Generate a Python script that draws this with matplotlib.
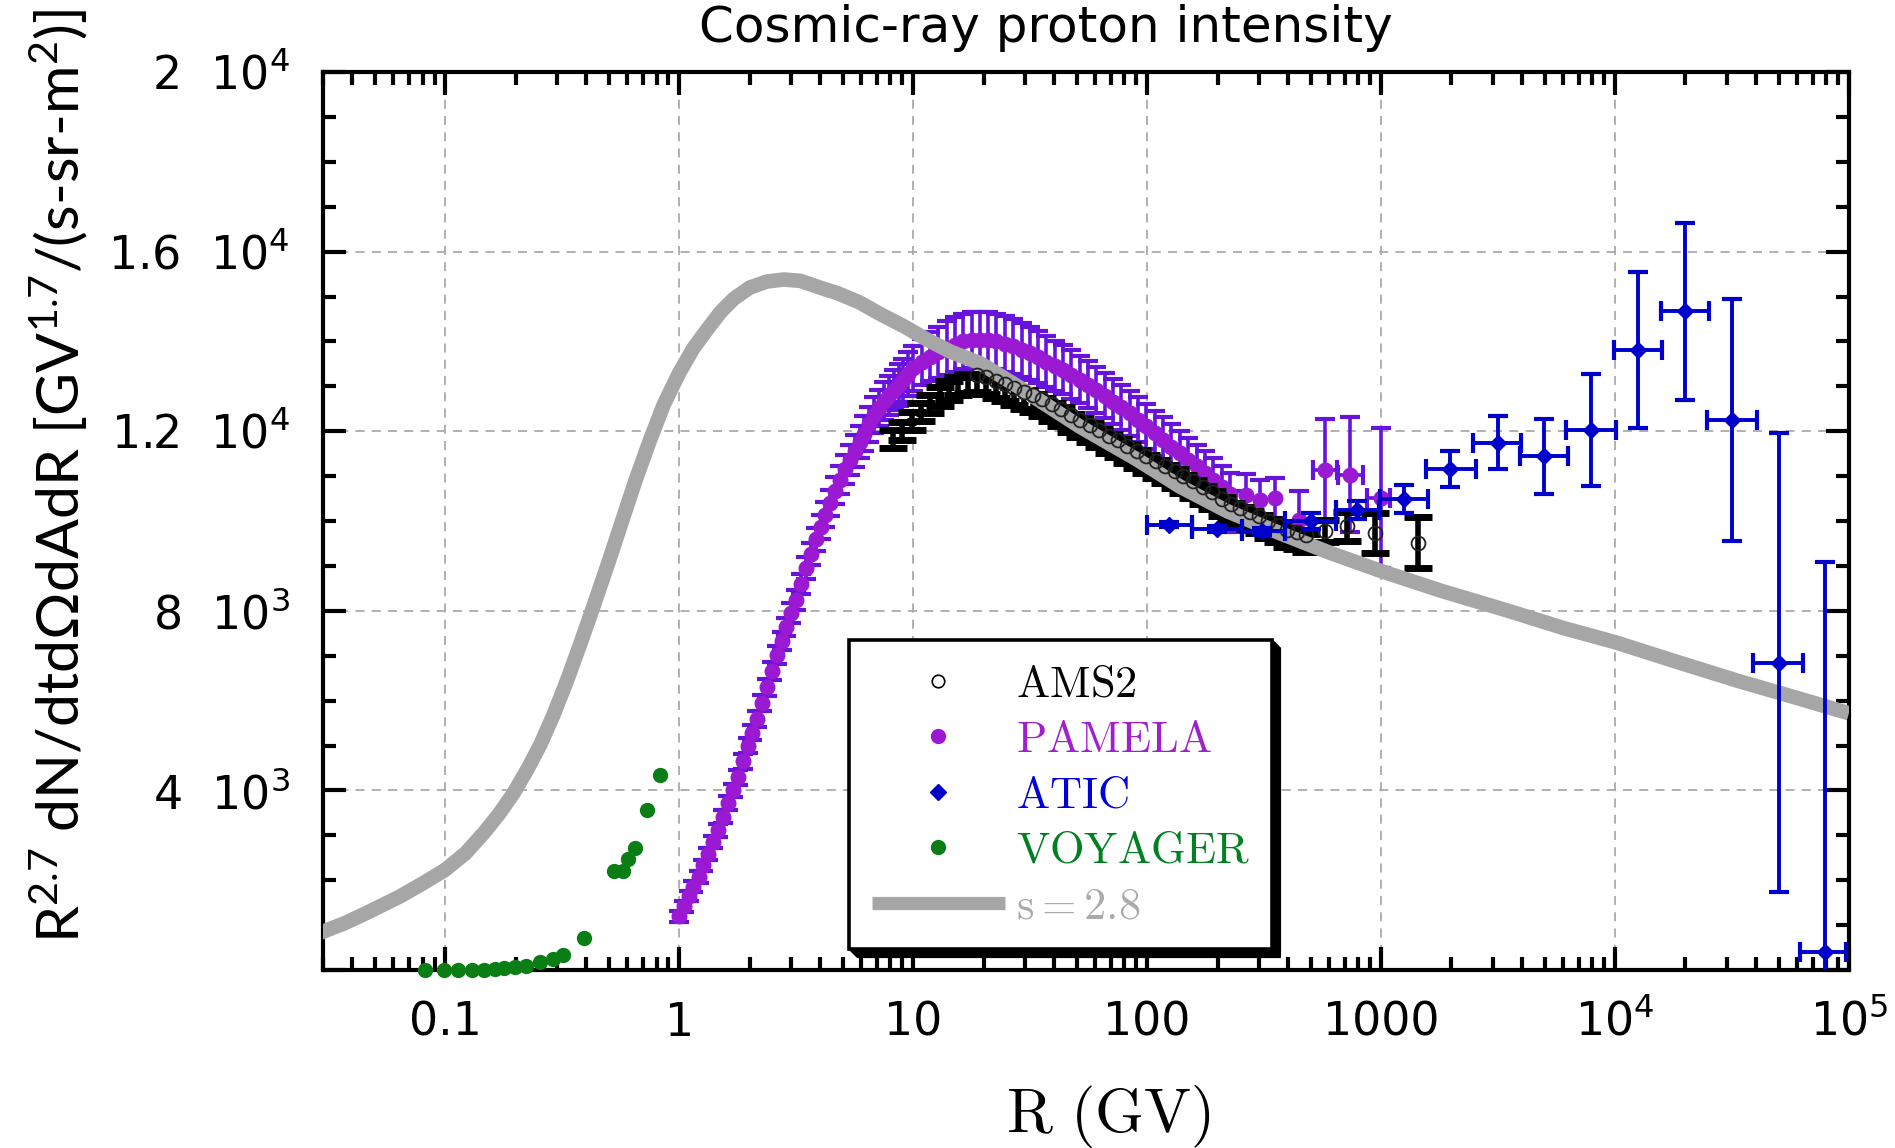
import numpy as np
import matplotlib
matplotlib.use('Agg')
import matplotlib.pyplot as plt
from matplotlib.lines import Line2D
from matplotlib.patches import Polygon
from matplotlib.ticker import LogLocator, MultipleLocator, NullFormatter

# model curve, s = 2.8
CURVE_R = [0.029, 0.037, 0.046, 0.064, 0.082, 0.10, 0.122, 0.146, 0.17, 0.196, 0.225, 0.255,
           0.29, 0.33, 0.38, 0.43, 0.50, 0.57, 0.65, 0.75, 0.86, 1.0, 1.15, 1.31, 1.5, 1.71, 2.0,
           2.37, 2.8, 3.3, 4.0, 4.75, 5.9, 7.3, 9.2, 11.5, 14.5, 19.3, 28, 51.5, 90, 138, 220,
           369, 600, 1000, 1800, 3500, 6000, 10000, 18000, 33400, 60000, 100000]
CURVE_VAL = [824, 1040, 1269, 1639, 1960, 2234, 2600, 3051, 3480, 3942, 4480, 5020,
             5680, 6420, 7300, 8100, 9100, 10000, 10900, 11800, 12600, 13300, 13850, 14250, 14650, 14950, 15200,
             15335, 15380, 15350, 15200, 15076, 14870, 14600, 14330, 14037, 13770, 13518, 13000, 12106, 11380, 10770, 10220,
             9732, 9300, 8887, 8450, 8001, 7620, 7303, 6880, 6444, 6060, 5719]

# AMS2
AMS_R = [8.18, 8.97, 9.84, 10.8, 11.8, 13.0, 14.2, 15.6, 17.1, 18.7, 20.5, 22.5, 24.7, 27.1,
         29.7, 32.6, 35.7, 39.2, 43.0, 47.2, 51.8, 56.8, 62.3, 68.4, 75.0, 82.2, 90.2, 99.0,
         109, 119, 131, 143, 157, 173, 189, 208, 228, 250, 274, 301, 330, 362, 397, 436, 478,
         576, 713, 944, 1445]
AMS_VAL = [12000, 12180, 12400, 12600, 12780, 12950, 13080, 13180, 13240, 13255, 13210, 13130, 13045, 12960,
           12880, 12800, 12720, 12610, 12500, 12360, 12260, 12150, 12020, 11900, 11800, 11680, 11560, 11440,
           11330, 11230, 11120, 11000, 10890, 10760, 10640, 10500, 10380, 10290, 10200, 10110, 10010, 9920,
           9810, 9750, 9690, 9770, 9880, 9730, 9520]
AMS_ERR_LO = [380] * 45 + [245, 320, 445, 560]
AMS_ERR_HI = [30] * 45 + [245, 320, 445, 560]

# PAMELA
PAM_R = [1.00, 1.05, 1.10, 1.15, 1.21, 1.27, 1.33, 1.40, 1.47, 1.54, 1.62, 1.70, 1.78, 1.87, 1.96,
         2.05, 2.15, 2.26, 2.37, 2.49, 2.61, 2.74, 2.87, 3.01, 3.16, 3.32, 3.48, 3.65, 3.83, 4.02,
         4.22, 4.43, 4.64, 4.87, 5.11, 5.36, 5.62, 5.90, 6.19, 6.49, 6.81, 7.15, 7.50, 7.87, 8.25,
         8.66, 9.09, 9.54, 10.0,
         10.9, 11.8, 12.8, 13.9, 15.1, 16.4, 17.8, 19.3, 20.9, 22.7, 24.7, 26.8, 29.1, 31.5, 34.2,
         37.1, 40.3, 43.7, 47.4, 51.5, 55.9, 60.7, 65.9, 71.5, 77.6, 84.2, 91.4, 99.2, 108, 117,
         127, 138, 150, 163, 177, 192, 208, 226,
         240, 266, 303, 352, 445, 576, 735, 996]
PAM_VAL = [1200, 1420, 1650, 1860, 2080, 2330, 2580, 2850, 3110, 3410, 3720, 4000, 4290, 4650, 5000,
           5290, 5590, 5950, 6300, 6660, 7020, 7330, 7640, 7950, 8250, 8600, 8950, 9270, 9590, 9870,
           10140, 10410, 10680, 10920, 11150, 11360, 11560, 11760, 11950, 12160, 12360, 12520, 12680, 12800, 12920,
           13030, 13140, 13270, 13400,
           13540, 13660, 13760, 13850, 13930, 14000, 14030, 14040, 14030, 14000, 13950, 13890, 13820, 13740, 13650,
           13550, 13460, 13370, 13260, 13150, 13040, 12920, 12790, 12660, 12530, 12400, 12260, 12110, 11960, 11810,
           11660, 11510, 11370, 11220, 11070, 10920, 10760, 10600,
           10210, 10590, 10470, 10510, 10030, 11130, 11030, 10510]
PAM_ERR = [120, 120, 120, 125, 130, 130, 135, 140, 140, 145, 150, 155, 160, 165, 170,
           175, 180, 185, 190, 195, 200, 205, 210, 215, 220, 230, 240, 250, 260, 270,
           280, 290, 300, 310, 320, 335, 350, 365, 380, 390, 400, 410, 420, 435, 450,
           465, 480, 490, 500,
           520, 550, 570, 600, 610, 620, 620, 620, 620, 620, 620, 610, 600, 590, 580,
           570, 560, 550, 540, 530, 520, 510, 500, 500, 500, 500, 500, 500, 500, 500,
           500, 500, 490, 480, 480, 480, 470, 470,
           450, 450, 450, 450, 650, 1150, 1280, 1560]
PAM_TAIL_LO = [512, 655, 871]
PAM_TAIL_HI = [649, 838, 1096]

# ATIC
ATIC_R = [124, 199, 311, 501, 790, 1250, 1980, 3150, 4980, 7890, 12530, 19860, 31600, 50100, 78900]
ATIC_VAL = [9917, 9820, 9770, 10000, 10250, 10490, 11160, 11750, 11440, 12030, 13810, 14670, 12250, 6850, 400]
ATIC_ERR = [60, 60, 80, 180, 200, 315, 400, 590, 840, 1250, 1740, 1970, 2700, 5110, 8690]
ATIC_RLO = [100, 156, 255, 390, 640, 985, 1560, 2470, 3940, 6180, 9890, 15740, 24660, 39000, 61800]
ATIC_RHI = [156, 255, 390, 640, 980, 1580, 2540, 3980, 6300, 10100, 15960, 25230, 40640, 63500, 97200]

# VOYAGER
VOY_R = [0.0822, 0.0984, 0.113, 0.130, 0.146, 0.163, 0.179, 0.199, 0.222, 0.255, 0.288, 0.318,
         0.393, 0.524, 0.574, 0.607, 0.648, 0.727, 0.824]
VOY_VAL = [5, 5, 5, 5, 8, 22, 45, 58, 81, 170, 246, 343, 708, 2209, 2203, 2472, 2712, 3554, 4338]

X_TICKS = [0.1, 1, 10, 100, 1000, 1e4, 1e5]
X_LABELS = ['0.1', '1', '10', '100', '1000', r'10$^{4}$', r'10$^{5}$']
Y_TICKS = [0, 4000, 8000, 12000, 16000, 20000]
Y_LABELS = ['', r'4  10$^{3}$', r'8  10$^{3}$', r'1.2  10$^{4}$', r'1.6  10$^{4}$', r'2  10$^{4}$']

C_CURVE = '#a6a6a6'
C_PAM = '#9b19d3'
C_PAM_ERR = '#6614dc'
C_ATIC = '#0000cc'
C_VOY = '#0a7d14'

plt.rcParams['mathtext.fontset'] = 'custom'
plt.rcParams['mathtext.rm'] = 'Lato'
plt.rcParams['mathtext.it'] = 'Lato:italic'
plt.rcParams['mathtext.bf'] = 'Lato:bold'

fig = plt.figure(figsize=(18.95, 11.48), dpi=100, facecolor='white')
ax = fig.add_axes([0.1704, 0.155, 0.8053, 0.7822])

ams_R = np.array(AMS_R)
ams_V = np.array(AMS_VAL)
pam_R = np.array(PAM_R)
pam_V = np.array(PAM_VAL)

# PAMELA
ax.errorbar(pam_R, pam_V, yerr=PAM_ERR, fmt='none', ecolor=C_PAM_ERR, elinewidth=2.6,
            capsize=7, capthick=3, zorder=2)
ax.errorbar(pam_R[-3:], pam_V[-3:],
            xerr=[pam_R[-3:] - np.array(PAM_TAIL_LO), np.array(PAM_TAIL_HI) - pam_R[-3:]],
            fmt='none', ecolor=C_PAM_ERR, elinewidth=2.6, capsize=7, capthick=3, zorder=2)
ax.plot(pam_R, pam_V, 'o', color=C_PAM, ms=10.5, zorder=2.1)

# AMS2 error band
ax.errorbar(ams_R, ams_V, yerr=[AMS_ERR_LO, AMS_ERR_HI], fmt='none', ecolor='black',
            elinewidth=4, capsize=10, capthick=5, zorder=2.3)

# model curve
ax.plot(CURVE_R, CURVE_VAL, '-', color=C_CURVE, lw=10.5, solid_capstyle='butt',
        solid_joinstyle='round', zorder=3)

# AMS2 circles
vis = ams_R > 18
ax.plot(ams_R[vis], ams_V[vis], 'o', mfc='none', mec='#222222', mew=1.3, ms=10, zorder=3.5)

# ATIC
atic_R = np.array(ATIC_R)
ax.errorbar(atic_R, ATIC_VAL, yerr=ATIC_ERR,
            xerr=[atic_R - np.array(ATIC_RLO), np.array(ATIC_RHI) - atic_R],
            fmt='D', color=C_ATIC, ms=8, elinewidth=2.8, capsize=7, capthick=3, zorder=4)

# VOYAGER
ax.plot(VOY_R, VOY_VAL, 'o', color=C_VOY, ms=10, zorder=6, clip_on=False)

ax.set_xscale('log')
ax.set_xlim(0.03, 1e5)
ax.set_ylim(0, 20000)
ax.set_xticks(X_TICKS, X_LABELS)
ax.set_yticks(Y_TICKS, Y_LABELS)
ax.xaxis.set_minor_locator(LogLocator(base=10, subs=np.arange(2, 10), numticks=100))
ax.xaxis.set_minor_formatter(NullFormatter())
ax.yaxis.set_minor_locator(MultipleLocator(1000))

ax.tick_params(which='both', direction='in', top=True, right=True, width=3)
ax.tick_params(which='major', length=16.5, labelsize=33)
ax.tick_params(which='minor', length=9.5)
ax.tick_params(axis='x', which='major', pad=22)
ax.tick_params(axis='y', which='major', pad=24)
for lbl in ax.get_xticklabels() + ax.get_yticklabels():
    lbl.set_fontfamily('DejaVu Sans')
    lbl.set_math_fontfamily('dejavusans')
for sp in ax.spines.values():
    sp.set_linewidth(3)

ax.grid(True, which='major', color='#aaaaaa', linestyle=(0, (5, 4)), linewidth=1.3, zorder=0)
ax.set_axisbelow(True)

# legend
handles = [
    Line2D([], [], ls='none', marker='o', mfc='none', mec='black', mew=1.2, ms=9),
    Line2D([], [], ls='none', marker='o', color=C_PAM, ms=10),
    Line2D([], [], ls='none', marker='D', color=C_ATIC, ms=8),
    Line2D([], [], ls='none', marker='o', color=C_VOY, ms=10),
    Line2D([], [], color=C_CURVE, lw=9.5, solid_capstyle='butt'),
]
labels = [r'$\mathrm{AMS2}$', r'$\mathrm{PAMELA}$', r'$\mathrm{ATIC}$', r'$\mathrm{VOYAGER}$',
          r'$\mathrm{s} = 2.8$']
leg = ax.legend(handles, labels, loc='lower left', bbox_to_anchor=(0.345, 0.023), borderaxespad=0,
                fontsize=32, labelcolor=['black', '#a020d0', '#0000dd', '#008020', '#aaaaaa'],
                frameon=True, fancybox=False, edgecolor='black', framealpha=1,
                handlelength=3.0, handletextpad=0.25, labelspacing=0.28, borderpad=0.5)
leg.get_frame().set_linewidth(2.6)
leg.set_zorder(10)
for t in leg.get_texts():
    t.set_math_fontfamily('cm')

# labels and title
fig.text(0.5847, 0.014, r'$\mathrm{R\ (GV)}$', ha='center', va='baseline', fontsize=45,
         math_fontfamily='cm')
fig.text(0.031, 0.1786, r'R$^{2.7}$ dN/dtdΩdAdR [GV$^{1.7}$/(s-sr-m$^{2}$)]', rotation=90,
         ha='center', va='bottom', fontsize=42.5, family=['Lato', 'DejaVu Sans'])
fig.text(0.552, 0.963, 'Cosmic-ray proton intensity', ha='center', va='baseline', fontsize=36,
         family='DejaVu Sans')

# 3D-looking legend shadow
fig.canvas.draw()
bb = leg.get_window_extent()
d = 8
x0, y0, x1, y1 = bb.x0, bb.y0, bb.x1, bb.y1
shadow = Polygon([(x0, y0), (x0 + d, y0 - d), (x1 + d, y0 - d), (x1 + d, y1 - d), (x1, y1), (x1, y0)],
                 closed=True, facecolor='black', edgecolor='black', transform=None, zorder=9.9,
                 clip_on=False)
ax.add_artist(shadow)

fig.savefig('out.png', dpi=100, facecolor='white')
